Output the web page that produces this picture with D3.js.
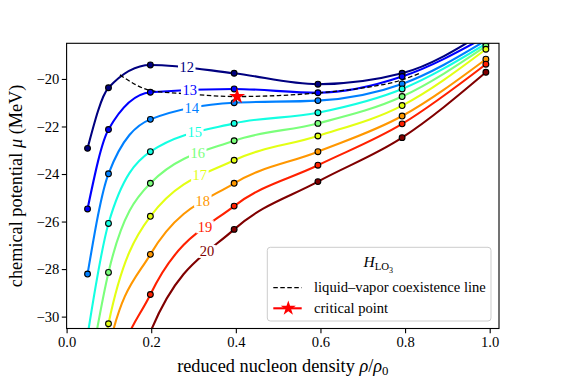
<!DOCTYPE html>
<html>
<head>
<meta charset="utf-8">
<script src="https://cdn.jsdelivr.net/npm/d3@7"></script>
<style>
  body { margin: 0; background: #fff; }
  svg, svg text, svg tspan { font-family: "Liberation Serif", "Times New Roman", serif !important; }
</style>
</head>
<body>
<div id="chart"></div>
<script>
// reduced densities rho/rho0 where each isotherm was sampled
const densities = [0.0495, 0.099, 0.198, 0.396, 0.594, 0.793, 0.991];
// isotherm temperatures (MeV)
const temperatures = [12, 13, 14, 15, 16, 17, 18, 19, 20];
// chemical potential (MeV) on each isotherm, read at the densities above
// (values under -30.5 or over -18.5 sit outside the axes and are clipped)
const mu12 = [-22.92, -20.37, -19.41, -19.76, -20.22, -19.76, -18.00];
const mu13 = [-25.47, -22.13, -20.56, -20.42, -20.58, -19.90, -18.22];
const mu14 = [-28.21, -23.99, -21.70, -21.00, -20.91, -20.21, -18.38];
const mu15 = [-30.80, -26.08, -23.06, -21.87, -21.42, -20.42, -18.52];
const mu16 = [-32.80, -28.14, -24.39, -22.60, -21.87, -20.74, -18.62];
const mu17 = [-35.50, -30.30, -25.78, -23.42, -22.40, -21.12, -18.75];
const mu18 = [-38.00, -31.40, -27.38, -24.39, -23.06, -21.56, -19.17];
const mu19 = [-40.00, -33.60, -29.07, -25.35, -23.63, -21.89, -19.38];
const mu20 = [-43.00, -36.00, -30.65, -26.33, -24.32, -22.47, -19.72];
const muSeries = [mu12, mu13, mu14, mu15, mu16, mu17, mu18, mu19, mu20];

// liquid-vapour coexistence line
const coexRho = [0.126, 0.2, 0.28, 0.4, 0.5, 0.6, 0.7, 0.787, 0.835];
const coexMu = [-19.83, -20.49, -20.62, -20.74, -20.70, -20.58, -20.38, -20.07, -19.76];
// critical point
const critRho = [0.403];
const critMu = [-20.74];

const xTicks = [0, 0.2, 0.4, 0.6, 0.8, 1.0];
const yTicks = [-30, -28, -26, -24, -22, -20];

// jet colormap sampled for the 9 isotherms
const colors = ["#000080", "#0000ff", "#0080ff", "#14ffe2", "#7bff7b",
                "#e3ff14", "#ff9700", "#ff2100", "#800000"];
// where along rho the inline temperature labels sit
const labelRho = [0.284, 0.291, 0.296, 0.303, 0.310, 0.315, 0.322, 0.327, 0.332];

const FONT = "'Liberation Serif', 'Times New Roman', serif";
const W = 561, H = 384;
const margin = {top: 43.3, right: 62, bottom: 55.5, left: 66.6};

const svg = d3.select("#chart").append("svg")
    .attr("width", W)
    .attr("height", H)
    .style("font-family", FONT);

const x = d3.scaleLinear()
    .domain([0, 1.022])
    .range([margin.left, W - margin.right]);
const y = d3.scaleLinear()
    .domain([-30.5, -18.5])
    .range([H - margin.bottom, margin.top]);

svg.append("defs").append("clipPath")
    .attr("id", "plotclip")
  .append("rect")
    .attr("x", x.range()[0])
    .attr("y", y.range()[1])
    .attr("width", x.range()[1] - x.range()[0])
    .attr("height", y.range()[0] - y.range()[1]);

// axes
const xAxis = svg.append("g")
    .attr("transform", "translate(0," + y.range()[0] + ")")
    .call(d3.axisBottom(x).tickValues(xTicks).tickFormat(d3.format(".1f"))
      .tickSizeOuter(0).tickSize(4.8).tickPadding(3.5));
const yAxis = svg.append("g")
    .attr("transform", "translate(" + x.range()[0] + ",0)")
    .call(d3.axisLeft(y).tickValues(yTicks).tickFormat(d3.format("d"))
      .tickSizeOuter(0).tickSize(4.8).tickPadding(2.5));
[xAxis, yAxis].forEach(g => {
  g.attr("font-family", null);
  g.select(".domain").remove();
  g.selectAll("text").attr("font-size", 14.6).style("font-family", FONT);
  g.selectAll("line").attr("stroke-width", 1.1);
});

const plot = svg.append("g").attr("clip-path", "url(#plotclip)");

const line = d3.line()
    .curve(d3.curveMonotoneX)
    .x(d => x(d[0]))
    .y(d => y(d[1]));

// isotherms
const paths = muSeries.map((mu, i) => {
  const pts = densities.map((r, j) => [r, mu[j]]);
  return plot.append("path")
      .datum(pts)
      .attr("d", line)
      .attr("fill", "none")
      .attr("stroke", colors[i])
      .attr("stroke-width", 2.1);
});

// inline labels on each isotherm
function pointAtX(node, px) {
  let lo = 0, hi = node.getTotalLength();
  for (let k = 0; k < 40; k++) {
    const mid = (lo + hi) / 2;
    if (node.getPointAtLength(mid).x < px) lo = mid; else hi = mid;
  }
  return node.getPointAtLength(lo);
}
paths.forEach((p, i) => {
  const pt = pointAtX(p.node(), x(labelRho[i]));
  const g = svg.append("g").attr("transform", "translate(" + pt.x + "," + pt.y + ")");
  const t = g.append("text")
      .attr("text-anchor", "middle")
      .attr("dy", "0.35em")
      .attr("font-size", 14.5)
      .style("fill", colors[i])
      .text(temperatures[i]);
  const bb = t.node().getBBox();
  g.insert("rect", "text")
      .attr("x", bb.x - 1.5)
      .attr("y", bb.y + 1.5)
      .attr("width", bb.width + 3)
      .attr("height", bb.height - 3)
      .attr("fill", "#fff");
});

// coexistence line
plot.append("path")
    .datum(coexRho.map((r, j) => [r, coexMu[j]]))
    .attr("d", line)
    .attr("fill", "none")
    .attr("stroke", "#000")
    .attr("stroke-width", 1.3)
    .attr("stroke-dasharray", "4.5,2.5");

// sample points
muSeries.forEach((mu, i) => {
  plot.selectAll(null)
    .data(densities.map((r, j) => [r, mu[j]]))
    .join("circle")
      .attr("cx", d => x(d[0]))
      .attr("cy", d => y(d[1]))
      .attr("r", 2.9)
      .attr("fill", colors[i])
      .attr("stroke", "#000")
      .attr("stroke-width", 1.1);
});

// critical point
const star = d3.symbol().type(d3.symbolStar).size(80);
svg.selectAll(null)
  .data(critRho.map((r, j) => [r, critMu[j]]))
  .join("path")
    .attr("d", star)
    .attr("transform", d => "translate(" + x(d[0]) + "," + y(d[1]) + ")")
    .attr("fill", "red");

// frame
svg.append("rect")
    .attr("x", x.range()[0])
    .attr("y", y.range()[1])
    .attr("width", x.range()[1] - x.range()[0])
    .attr("height", y.range()[0] - y.range()[1])
    .attr("fill", "none")
    .attr("stroke", "#000")
    .attr("stroke-width", 1.1);

// axis titles
const ylab = svg.append("text")
    .attr("transform", "translate(22," + ((y.range()[0] + y.range()[1]) / 2) + ") rotate(-90)")
    .attr("text-anchor", "middle")
    .attr("font-size", 18.3);
ylab.append("tspan").text("chemical potential ");
ylab.append("tspan").attr("font-style", "italic").text("μ");
ylab.append("tspan").text(" (MeV)");

const xlab = svg.append("text")
    .attr("x", (x.range()[0] + x.range()[1]) / 2)
    .attr("y", 371.5)
    .attr("text-anchor", "middle")
    .attr("font-size", 18.3);
xlab.append("tspan").text("reduced nucleon density ");
xlab.append("tspan").attr("font-style", "italic").text("ρ");
xlab.append("tspan").text("/");
xlab.append("tspan").attr("font-style", "italic").text("ρ");
xlab.append("tspan").attr("font-size", 12.8).attr("dy", 3.5).text("0");

// legend
const lg = svg.append("g").attr("transform", "translate(267.3,247.3)");
lg.append("rect")
    .attr("width", 223.7)
    .attr("height", 73.7)
    .attr("rx", 3)
    .attr("fill", "#fff")
    .attr("fill-opacity", 0.8)
    .attr("stroke", "#ccc")
    .attr("stroke-width", 1);
const title = lg.append("text")
    .attr("x", 111)
    .attr("y", 20)
    .attr("text-anchor", "middle")
    .attr("font-size", 15.5);
title.append("tspan").attr("font-style", "italic").text("H");
title.append("tspan").attr("font-size", 10.8).attr("dy", 3).text("LO");
title.append("tspan").attr("font-size", 8).attr("dy", 2.5).text("3");

lg.append("line")
    .attr("x1", 6).attr("x2", 34.4)
    .attr("y1", 40.4).attr("y2", 40.4)
    .attr("stroke", "#000")
    .attr("stroke-width", 1.3)
    .attr("stroke-dasharray", "4.5,2.5");
lg.append("text")
    .attr("x", 46.7).attr("y", 45)
    .attr("font-size", 14.6)
    .text("liquid–vapor coexistence line");

lg.append("line")
    .attr("x1", 6).attr("x2", 34.4)
    .attr("y1", 61).attr("y2", 61)
    .attr("stroke", "red")
    .attr("stroke-width", 2.1);
lg.append("path")
    .attr("d", d3.symbol().type(d3.symbolStar).size(70))
    .attr("transform", "translate(21,61)")
    .attr("fill", "red");
lg.append("text")
    .attr("x", 46.7).attr("y", 65.5)
    .attr("font-size", 14.6)
    .text("critical point");
</script>
</body>
</html>
